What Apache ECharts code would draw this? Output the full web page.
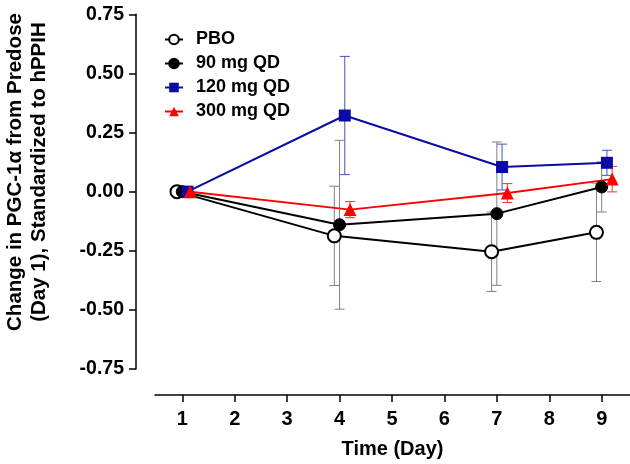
<!DOCTYPE html>
<html><head><meta charset="utf-8">
<script src="https://cdn.jsdelivr.net/npm/echarts@6/dist/echarts.min.js"></script>
<style>html,body{margin:0;padding:0;background:#fff}#c{width:630px;height:464px}</style>
</head><body><div id="c"></div>
<script>
// ---- data ----
var seriesNames = ['PBO', '90 mg QD', '120 mg QD', '300 mg QD'];
var xTicks = [1, 2, 3, 4, 5, 6, 7, 8, 9];
var yTicks = [-0.75, -0.5, -0.25, 0, 0.25, 0.5, 0.75];
// plotted day positions (horizontally nudged per group, as in the figure)
var pboDays   = [0.9, 3.9, 6.9, 8.9];
var mg90Days  = [1.0, 4.0, 7.0, 9.0];
var mg120Days = [1.1, 4.1, 7.1, 9.1];
var mg300Days = [1.15, 4.2, 7.2, 9.2];
// means
var pboMean   = [0, -0.187, -0.254, -0.172];
var mg90Mean  = [0, -0.140, -0.093, 0.020];
var mg120Mean = [0, 0.322, 0.104, 0.122];
var mg300Mean = [0, -0.076, -0.006, 0.053];
// error (half-length of bar)
var pboErr   = [0, 0.210, 0.168, 0.208];
var mg90Err  = [0, 0.357, 0.303, 0.106];
var mg120Err = [0, 0.250, 0.097, 0.053];
var mg300Err = [0, 0.034, 0.040, 0.054];

var FONT = '"Liberation Sans", Arial, Helvetica, sans-serif';
var BLUE = '#0a0aa5', RED = '#ff0000';

function pts(xs, ys) { return xs.map(function (x, i) { return [x, ys[i]]; }); }
function errPts(xs, ys, es) { return xs.map(function (x, i) { return [x, ys[i], es[i]]; }); }

function errSeries(xs, ys, es, color) {
  return {
    type: 'custom', z: 1, silent: true,
    data: errPts(xs, ys, es),
    renderItem: function (params, api) {
      var x = api.value(0), m = api.value(1), e = api.value(2);
      if (!e) return null;
      var top = api.coord([x, m + e]), bot = api.coord([x, m - e]);
      var w = 5, st = { stroke: color, lineWidth: 1 };
      return { type: 'group', children: [
        { type: 'line', shape: { x1: top[0], y1: top[1], x2: bot[0], y2: bot[1] }, style: st },
        { type: 'line', shape: { x1: top[0] - w, y1: top[1], x2: top[0] + w, y2: top[1] }, style: st },
        { type: 'line', shape: { x1: bot[0] - w, y1: bot[1], x2: bot[0] + w, y2: bot[1] }, style: st }
      ] };
    }
  };
}

var chart = echarts.init(document.getElementById('c'), null, { renderer: 'canvas' });
chart.setOption({
  animation: false,
  backgroundColor: '#fff',
  textStyle: { fontFamily: FONT },
  grid: { left: 155, right: 0, top: 14.3, bottom: 94 },
  legend: {
    orient: 'vertical', left: 159, top: 25.5,
    itemWidth: 18, itemHeight: 12, itemGap: 6,
    data: seriesNames,
    textStyle: { fontFamily: FONT, fontWeight: 'bold', fontSize: 18, color: '#000', padding: [0, 0, 0, 8] }
  },
  xAxis: {
    type: 'value', min: 0.48, max: 9.54, offset: 26,
    name: 'Time (Day)', nameLocation: 'middle', nameGap: 44,
    nameTextStyle: { fontFamily: FONT, fontWeight: 'bold', fontSize: 20, color: '#000' },
    axisLine: { show: true, onZero: false, lineStyle: { color: '#000', width: 1.5 } },
    axisTick: { show: true, length: 7, lineStyle: { color: '#000', width: 1.5 }, customValues: xTicks },
    axisLabel: { fontFamily: FONT, fontWeight: 'bold', fontSize: 20, color: '#000', margin: 14, customValues: xTicks },
    splitLine: { show: false }
  },
  yAxis: {
    type: 'value', min: -0.75, max: 0.75, interval: 0.25, offset: 19,
    axisLine: { show: true, lineStyle: { color: '#000', width: 1.5 } },
    axisTick: { show: true, length: 7, lineStyle: { color: '#000', width: 1.5 } },
    axisLabel: { fontFamily: FONT, fontWeight: 'bold', fontSize: 19.5, color: '#000', margin: 12,
      formatter: function (v) { return v.toFixed(2); } },
    splitLine: { show: false }
  },
  graphic: [{
    type: 'text', x: 27, y: 172, rotation: Math.PI / 2,
    style: {
      text: 'Change in PGC-1α from Predose\n(Day 1), Standardized to hPPIH',
      fontFamily: FONT, fontWeight: 'bold', fontSize: 20.5, lineHeight: 24,
      fill: '#000', align: 'center', verticalAlign: 'middle'
    }
  }],
  series: [
    errSeries(pboDays, pboMean, pboErr, '#808080'),
    errSeries(mg90Days, mg90Mean, mg90Err, '#808080'),
    errSeries(mg120Days, mg120Mean, mg120Err, '#4450c0'),
    errSeries(mg300Days, mg300Mean, mg300Err, '#f03030'),
    { name: 'PBO', type: 'line', z: 3, data: pts(pboDays, pboMean),
      symbol: 'circle', symbolSize: 13, showAllSymbol: true,
      lineStyle: { color: '#000', width: 2 },
      itemStyle: { color: '#fff', borderColor: '#000', borderWidth: 2 } },
    { name: '90 mg QD', type: 'line', z: 3, data: pts(mg90Days, mg90Mean),
      symbol: 'circle', symbolSize: 12,
      lineStyle: { color: '#000', width: 2 },
      itemStyle: { color: '#000', borderColor: '#000', borderWidth: 1 } },
    { name: '120 mg QD', type: 'line', z: 3, data: pts(mg120Days, mg120Mean),
      symbol: 'rect', symbolSize: 12,
      lineStyle: { color: BLUE, width: 2 },
      itemStyle: { color: BLUE } },
    { name: '300 mg QD', type: 'line', z: 3, data: pts(mg300Days, mg300Mean),
      symbol: 'triangle', symbolSize: 13,
      lineStyle: { color: RED, width: 2 },
      itemStyle: { color: RED } }
  ]
});
</script></body></html>
